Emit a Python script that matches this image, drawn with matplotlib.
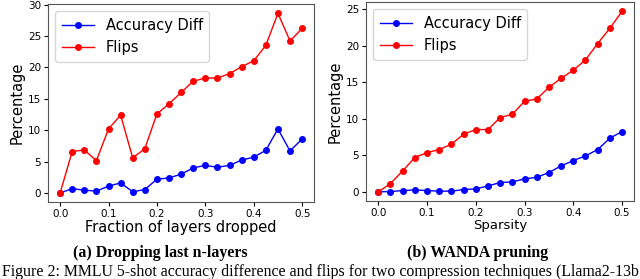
import matplotlib
matplotlib.use("Agg")
import matplotlib.pyplot as plt

# valores
fraccion = [0.0, 0.025, 0.05, 0.075, 0.1, 0.125, 0.15, 0.175, 0.2, 0.225, 0.25,
            0.275, 0.3, 0.325, 0.35, 0.375, 0.4, 0.425, 0.45, 0.475, 0.5]

acc_capas = [0.0, 0.7, 0.45, 0.3, 1.1, 1.6, 0.2, 0.55, 2.2, 2.4, 3.0,
             4.0, 4.4, 4.1, 4.4, 5.25, 5.7, 6.8, 10.2, 6.7, 8.6]
flips_capas = [0.0, 6.6, 6.85, 5.15, 10.2, 12.4, 5.6, 7.05, 12.6, 14.2, 16.0,
               17.8, 18.3, 18.3, 19.0, 20.1, 21.05, 23.5, 28.6, 24.2, 26.2]

acc_wanda = [0.0, 0.05, 0.18, 0.27, 0.18, 0.1, 0.1, 0.32, 0.41, 0.82, 1.28,
             1.37, 1.78, 2.0, 2.65, 3.56, 4.29, 4.93, 5.8, 7.35, 8.26]
flips_wanda = [0.0, 1.14, 2.87, 4.7, 5.38, 5.8, 6.52, 7.9, 8.53, 8.53, 10.17,
               10.63, 12.4, 12.73, 14.3, 15.56, 16.65, 18.07, 20.3, 22.4, 24.7]

fig = plt.figure(figsize=(6.4, 2.79), dpi=100)

ax1 = fig.add_axes([0.075, 0.276, 0.416, 0.71])
ax2 = fig.add_axes([0.572, 0.28, 0.419, 0.713])

paneles = [
    (ax1, acc_capas, flips_capas, "Fraction of layers dropped", 10.5),
    (ax2, acc_wanda, flips_wanda, "Sparsity", 9.5),
]

for ax, acc, flips, etiqueta, tam in paneles:
    ax.plot(fraccion, acc, marker='o', linestyle='-', color='b',
            markersize=4, linewidth=1, label="Accuracy Diff")
    ax.plot(fraccion, flips, marker='o', linestyle='-', color='r',
            markersize=4, linewidth=1, label="Flips")
    ax.set_xlabel(etiqueta, fontsize=tam, labelpad=1)
    ax.set_ylabel("Percentage", fontsize=10.5, labelpad=2)
    ax.set_xticks([0.0, 0.1, 0.2, 0.3, 0.4, 0.5])
    ax.tick_params(labelsize=7.5, length=3, pad=2)
    ax.legend(loc='upper left', fontsize=10.5, handlelength=2.2,
              borderpad=0.45, labelspacing=0.5, handletextpad=0.8)
    for s in ax.spines.values():
        s.set_linewidth(0.8)
        s.set_color('#555555')

ax1.set_yticks([0, 5, 10, 15, 20, 25, 30])
ax1.set_ylim(-1.43, 30.1)
ax2.set_yticks([0, 5, 10, 15, 20, 25])
ax2.set_ylim(-1.23, 26.0)

fig.text(160 / 640, 1 - 257 / 279, "(a) Dropping last n-layers", ha='center',
         va='baseline', fontsize=11.4, fontweight='bold', family='Liberation Serif')
fig.text(478 / 640, 1 - 257 / 279, "(b) WANDA pruning", ha='center',
         va='baseline', fontsize=11.4, fontweight='bold', family='Liberation Serif')
fig.text(2 / 640, 1 - 276 / 279,
         "Figure 2: MMLU 5-shot accuracy difference and flips for two compression techniques (Llama2-13b",
         ha='left', va='baseline', fontsize=11.4, family='Liberation Serif')

fig.savefig("out.png", dpi=100)
